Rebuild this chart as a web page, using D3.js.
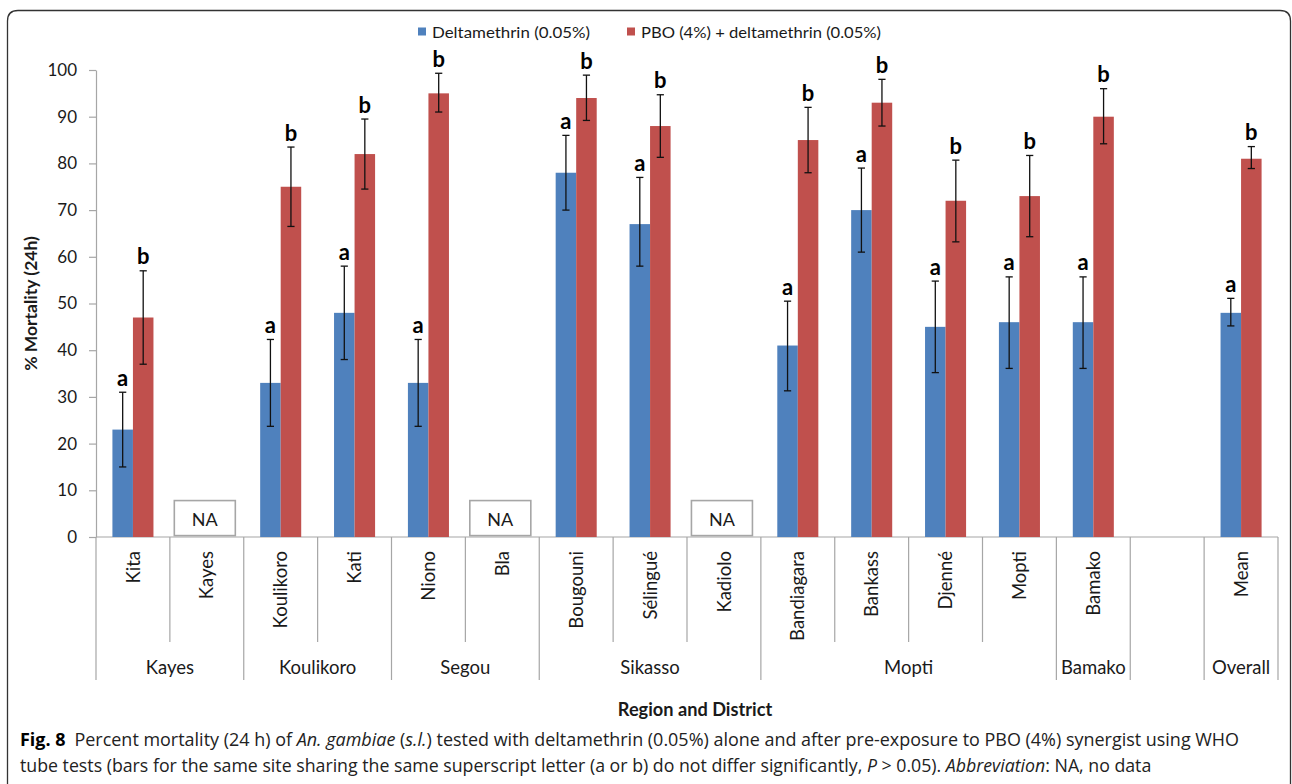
<!DOCTYPE html>
<html>
<head>
<meta charset="utf-8">
<script src="https://cdn.jsdelivr.net/npm/d3@7"></script>
<style>
  html, body { margin: 0; padding: 0; background: #fff; }
  svg { display: block; }
</style>
</head>
<body>
<svg id="chart" width="1292" height="784"></svg>
<script>
// ---- data ----
const districts = ["Kita", "Kayes", "Koulikoro", "Kati", "Niono", "Bla", "Bougouni", "Sélingué",
                   "Kadiolo", "Bandiagara", "Bankass", "Djenné", "Mopti", "Bamako", "", "Mean"];
const regions   = ["Kayes", "Kayes", "Koulikoro", "Koulikoro", "Segou", "Segou", "Sikasso", "Sikasso",
                   "Sikasso", "Mopti", "Mopti", "Mopti", "Mopti", "Bamako", "", "Overall"];
const noData    = ["Kayes", "Bla", "Kadiolo"];

const deltamethrin = [23, null, 33, 48, 33, null, 78, 67, null, 41, 70, 45, 46, 46, null, 48];
const deltaLow     = [15, null, 23.7, 38, 23.7, null, 70, 58, null, 31.3, 61, 35.2, 36.1, 36.1, null, 45.2];
const deltaHigh    = [31, null, 42.3, 58, 42.3, null, 86, 77, null, 50.5, 79, 54.8, 55.7, 55.7, null, 51.1];

const pboDelta     = [47, null, 75, 82, 95, null, 94, 88, null, 85, 93, 72, 73, 90, null, 81];
const pboLow       = [37, null, 66.5, 74.5, 91, null, 89.2, 81.3, null, 78, 88, 63.2, 64.3, 84.2, null, 78.9];
const pboHigh      = [57, null, 83.5, 89.5, 99.3, null, 98.9, 94.7, null, 92, 98, 80.7, 81.7, 96, null, 83.6];

const seriesNames   = ["Deltamethrin (0.05%)", "PBO (4%) + deltamethrin (0.05%)"];
const seriesLetters = ["a", "b"];
const yTicks = [0, 10, 20, 30, 40, 50, 60, 70, 80, 90, 100];

// ---- setup ----
const svg = d3.select("#chart");
const font = "Lato, 'Open Sans', 'DejaVu Sans', sans-serif";
const capFont = "'Open Sans', 'Noto Sans', sans-serif";
const ink = "#1a1a1a";
const axisGray = "#a6a6a6";
const colors = ["#4F81BD", "#C0504D"];

// Squeeze or stretch a text element horizontally so it spans the given width
function fitWidth(sel, x0, width) {
  const w = sel.node().getBBox().width;
  sel.attr("transform", `translate(${x0},0) scale(${width / w},1) translate(${-x0},0)`);
}

// Rounded frame around the figure
svg.append("path")
  .attr("d", "M7.5,790 V21 Q7.5,10.5 18,10.5 H1280 Q1290.5,10.5 1290.5,21 V790")
  .attr("fill", "none").attr("stroke", "#333").attr("stroke-width", 1.3);

const x = d3.scaleBand().domain(d3.range(districts.length)).range([96, 1278]).padding(0);
const y = d3.scaleLinear().domain([0, 100]).range([537, 70]);
const xs = d3.scaleBand().domain([0, 1]).range([0, x.bandwidth()]).paddingInner(0).paddingOuter(0.8);

// ---- y axis ----
const yAxis = svg.append("g").attr("transform", "translate(96,0)")
  .call(d3.axisLeft(y).tickValues(yTicks).tickSize(7).tickSizeOuter(0).tickPadding(12));
yAxis.select(".domain").attr("stroke", axisGray).attr("stroke-width", 1.2);
yAxis.selectAll(".tick line").attr("stroke", axisGray).attr("stroke-width", 1.2);
yAxis.selectAll(".tick text").attr("font-family", font).attr("font-size", 17).attr("fill", ink);

// ---- category axis ----
svg.append("line").attr("x1", 96).attr("x2", 1278).attr("y1", y(0)).attr("y2", y(0))
  .attr("stroke", axisGray).attr("stroke-width", 1.2);

const n = districts.length;
const bounds = d3.range(n + 1).map(i => ({
  x: i === n ? x.range()[1] : x(i),
  long: i === 0 || i === n || regions[i] !== regions[i - 1]
}));
svg.append("g").selectAll("line").data(bounds).join("line")
  .attr("x1", d => d.x).attr("x2", d => d.x)
  .attr("y1", y(0)).attr("y2", d => d.long ? 680 : 642)
  .attr("stroke", axisGray).attr("stroke-width", 1.2);

svg.append("g").selectAll("text").data(districts.map((d, i) => ({ d, i })).filter(o => o.d))
  .join("text")
  .attr("transform", o => `translate(${x(o.i) + x.bandwidth() / 2},551) rotate(-90)`)
  .attr("dy", "0.36em").attr("text-anchor", "end")
  .attr("font-family", font).attr("font-size", 18.5).attr("fill", ink)
  .text(o => o.d);

// region groups: consecutive runs of the same region
const groups = [];
regions.forEach((r, i) => {
  if (i > 0 && regions[i - 1] === r) groups[groups.length - 1].end = i;
  else groups.push({ name: r, start: i, end: i });
});
svg.append("g").selectAll("text").data(groups.filter(g => g.name)).join("text")
  .attr("x", g => (x(g.start) + x(g.end) + x.bandwidth()) / 2)
  .attr("y", 674).attr("text-anchor", "middle")
  .attr("font-family", font).attr("font-size", 18.5).attr("fill", ink)
  .text(g => g.name);

// ---- bars ----
const rows = districts.map((d, i) => ({
  i,
  vals: [deltamethrin[i], pboDelta[i]],
  low: [deltaLow[i], pboLow[i]],
  high: [deltaHigh[i], pboHigh[i]]
}));
const marks = rows.flatMap(r => [0, 1]
  .filter(s => r.vals[s] != null)
  .map(s => ({ i: r.i, s, v: r.vals[s], lo: r.low[s], hi: r.high[s] })));

svg.append("g").selectAll("rect").data(marks).join("rect")
  .attr("x", m => x(m.i) + xs(m.s))
  .attr("width", xs.bandwidth())
  .attr("y", m => y(m.v))
  .attr("height", m => y(0) - y(m.v))
  .attr("fill", m => colors[m.s]);

// error bars
const cx = m => x(m.i) + xs(m.s) + xs.bandwidth() / 2;
const eg = svg.append("g").attr("stroke", "#111").attr("stroke-width", 1.3);
eg.selectAll("line.v").data(marks).join("line").attr("class", "v")
  .attr("x1", cx).attr("x2", cx).attr("y1", m => y(m.lo)).attr("y2", m => y(m.hi));
eg.selectAll("line.t").data(marks).join("line").attr("class", "t")
  .attr("x1", m => cx(m) - 3.6).attr("x2", m => cx(m) + 3.6)
  .attr("y1", m => y(m.hi)).attr("y2", m => y(m.hi));
eg.selectAll("line.b").data(marks).join("line").attr("class", "b")
  .attr("x1", m => cx(m) - 3.6).attr("x2", m => cx(m) + 3.6)
  .attr("y1", m => y(m.lo)).attr("y2", m => y(m.lo));

// significance letters
svg.append("g").selectAll("text").data(marks).join("text")
  .attr("x", cx).attr("y", m => y(m.hi) - 6.5)
  .attr("text-anchor", "middle")
  .attr("font-family", font).attr("font-weight", "bold").attr("font-size", 22).attr("fill", "#000")
  .text(m => seriesLetters[m.s]);

// "NA" boxes for districts without data
const naIdx = districts.map((d, i) => i).filter(i => noData.includes(districts[i]));
const na = svg.append("g").selectAll("g").data(naIdx).join("g")
  .attr("transform", i => `translate(${x(i) + x.bandwidth() / 2 - 2},0)`);
na.append("rect").attr("x", -30.5).attr("width", 61)
  .attr("y", y(7.8)).attr("height", y(0.3) - y(7.8))
  .attr("fill", "#fff").attr("stroke", axisGray).attr("stroke-width", 1.6);
na.append("text").attr("y", 526).attr("text-anchor", "middle")
  .attr("font-family", font).attr("font-size", 18).attr("fill", ink).text("NA");

// ---- axis titles ----
svg.append("text")
  .attr("transform", `translate(37,${(y(0) + y(100)) / 2}) rotate(-90)`)
  .attr("text-anchor", "middle")
  .attr("font-family", font).attr("font-weight", "bold").attr("font-size", 17.5).attr("fill", ink)
  .text("% Mortality (24h)");

svg.append("text")
  .attr("x", (x.range()[0] + x.range()[1]) / 2 + 8).attr("y", 716)
  .attr("text-anchor", "middle")
  .attr("font-family", font).attr("font-weight", "bold").attr("font-size", 18.2).attr("fill", ink)
  .text("Region and District");

// ---- legend ----
const legendX = [418, 627];
const legendW = [158, 240];
const lg = svg.append("g").selectAll("g").data(seriesNames).join("g")
  .attr("transform", (d, i) => `translate(${legendX[i]},0)`);
lg.append("rect").attr("x", 0).attr("y", 27.5).attr("width", 8).attr("height", 8)
  .attr("fill", (d, i) => colors[i]);
lg.append("text").attr("x", 14).attr("y", 37.5)
  .attr("font-family", font).attr("font-size", 16).attr("fill", ink)
  .attr("textLength", (d, i) => legendW[i]).attr("lengthAdjust", "spacingAndGlyphs")
  .text(d => d);

// ---- caption ----
const cap1 = svg.append("text").attr("x", 20).attr("y", 746)
  .attr("font-family", capFont).attr("font-size", 18).attr("fill", "#222");
cap1.append("tspan").attr("font-weight", "bold").attr("fill", "#000").text("Fig. 8");
cap1.append("tspan").text("\u2002Percent mortality (24 h) of ");
cap1.append("tspan").attr("font-style", "italic").text("An. gambiae");
cap1.append("tspan").text(" (");
cap1.append("tspan").attr("font-style", "italic").text("s.l.");
cap1.append("tspan").text(") tested with deltamethrin (0.05%) alone and after pre-exposure to PBO (4%) synergist using WHO");
fitWidth(cap1, 20, 1220);

const cap2 = svg.append("text").attr("x", 20).attr("y", 772)
  .attr("font-family", capFont).attr("font-size", 18).attr("fill", "#222");
cap2.append("tspan").text("tube tests (bars for the same site sharing the same superscript letter (a or b) do not differ significantly, ");
cap2.append("tspan").attr("font-style", "italic").text("P");
cap2.append("tspan").text(" > 0.05). ");
cap2.append("tspan").attr("font-style", "italic").text("Abbreviation");
cap2.append("tspan").text(": NA, no data");
fitWidth(cap2, 20, 1132);
</script>
</body>
</html>
